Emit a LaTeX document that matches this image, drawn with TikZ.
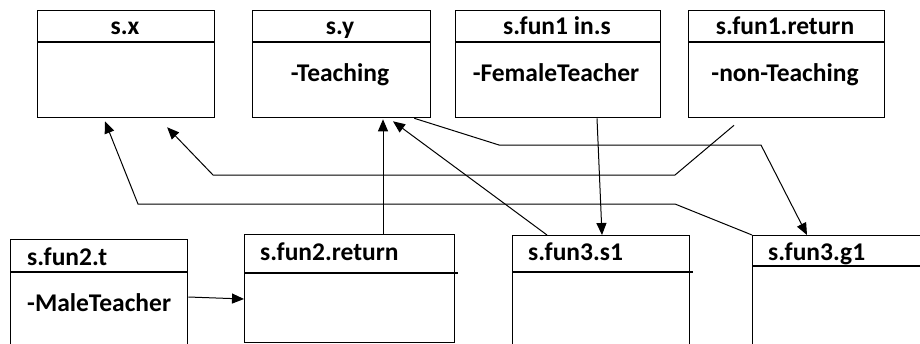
\documentclass[tikz,border=0pt]{standalone}
\usepackage{fontspec}
\setmainfont{Carlito}
\usetikzlibrary{arrows.meta, positioning, calc}

\begin{document}
\begin{tikzpicture}[x=1pt, y=-1pt,
    box/.style={draw, line width=1.3pt, anchor=north west, inner sep=0pt},
    sep/.style={line width=1.3pt},
    lbl/.style={font=\fontsize{25.5}{29}\selectfont\bfseries, inner sep=0pt},
    wire/.style={line width=1pt},
    arr/.style={wire, -{Triangle[length=12pt, width=10pt]}}]
	\useasboundingbox (0,0) rectangle (920,343);
	\clip (0,0) rectangle (920,343);

	% top row
	\node[box, minimum width=177pt, minimum height=107pt] (sx) at (37,10) {};
	\node[box, minimum width=178pt, minimum height=107pt] (sy) at (252,10) {};
	\node[box, minimum width=205pt, minimum height=107pt] (sin) at (455,10) {};
	\node[box, minimum width=196pt, minimum height=107pt] (sret) at (688,10) {};
	\foreach \b in {sx, sy, sin, sret}
		\draw[sep] ($(\b.north west)+(0,32)$) -- ($(\b.north east)+(0,32)$);

	\node[lbl, anchor=base] (sxname) at (125,34) {s.x};
	\node[lbl, anchor=base] (syname) at (340,34) {s.y};
	\node[lbl, anchor=base] (syval) at (340,81) {-Teaching};
	\node[lbl, anchor=base] (sinname) at (557,34) {s.fun1 in.s};
	\node[lbl, anchor=base] (sinval) at (556,81) {-FemaleTeacher};
	\node[lbl, anchor=base] (sretname) at (785,34) {s.fun1.return};
	\node[lbl, anchor=base] (sretval) at (785,81) {-non-Teaching};

	% bottom row
	\node[box, minimum width=177pt, minimum height=140pt] (ft) at (10,239) {};
	\node[box, minimum width=210pt, minimum height=108pt] (fr) at (244,234) {};
	\node[box, minimum width=177pt, minimum height=140pt] (ss) at (512,235) {};
	\node[box, minimum width=200pt, minimum height=140pt] (sg) at (752,235) {};
	\draw[sep] ($(ft.north west)+(0,33)$) -- ($(ft.north east)+(0,33)$);
	\draw[sep] ($(fr.north west)+(0,39)$) -- ($(fr.north east)+(3,39)$);
	\draw[sep] ($(ss.north west)+(0,37)$) -- ($(ss.north east)+(3,37)$);
	\draw[sep] ($(sg.north west)+(0,31)$) -- ($(sg.north east)+(0,31)$);

	\node[lbl, anchor=base west] (ftname) at (27,265) {s.fun2.t};
	\node[lbl, anchor=base west] (ftval) at (27,311) {-MaleTeacher};
	\node[lbl, anchor=base west] (frname) at (260,260) {s.fun2.return};
	\node[lbl, anchor=base west] (ssname) at (528,260) {s.fun3.s1};
	\node[lbl, anchor=base west] (sgname) at (768,260) {s.fun3.g1};

	% bends of the long connectors
	\coordinate (bA) at (499,145);
	\coordinate (bB) at (761,145);
	\coordinate (rtail) at ($(sret.south west)+(46,7)$);
	\coordinate (cA) at (675,175);
	\coordinate (cB) at (213,175);
	\coordinate (rtip) at ($(sx.south)+(41,9)$);
	\coordinate (dA) at (675,204);
	\coordinate (dB) at (138,204);

	% connectors
	\draw[arr] ($(ft.north east)+(0,58)$) -- ($(fr.north west)+(0,65)$);
	\draw[arr] ($(fr.north west)+(139,0)$) -- ($(sy.south west)+(131,1)$);
	\draw[arr] ($(ss.north west)+(35,0)$) -- ($(sy.south west)+(141,3)$);
	\draw[arr] ($(sin.south west)+(142,0)$) -- ($(ss.north west)+(90,0)$);
	\draw[arr] ($(sy.south east)+(-17,0)$) -- (bA) -- (bB) -- ($(sg.north west)+(55,0)$);
	\draw[arr] (rtail) -- (cA) -- (cB) -- (rtip);
	\draw[arr] (sg.north west) -- (dA) -- (dB) -- ($(sx.south west)+(68,3)$);
\end{tikzpicture}
\end{document}
